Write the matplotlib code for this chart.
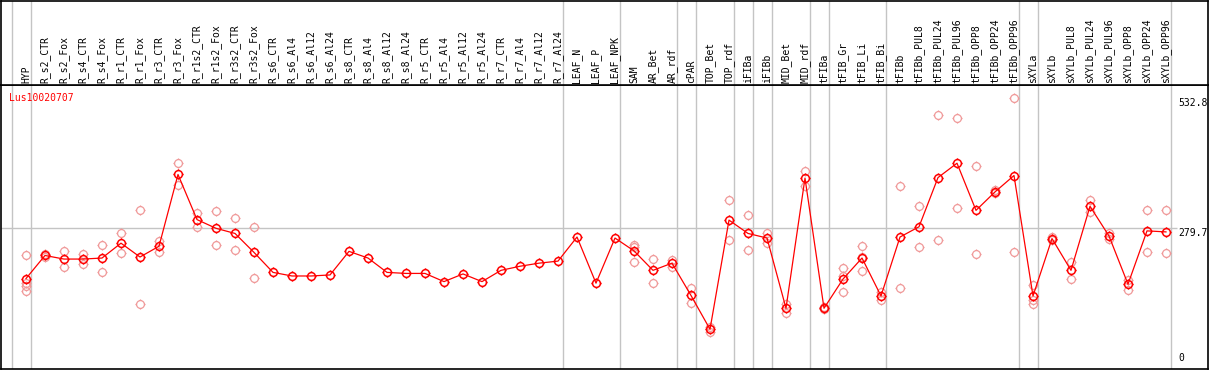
import numpy as np
import matplotlib
matplotlib.use("Agg")
import matplotlib.pyplot as plt
from matplotlib.path import Path

# sample names (one column each)
samples = ["HYP", "R_s2_CTR", "R_s2_Fox", "R_s4_CTR", "R_s4_Fox", "R_r1_CTR", "R_r1_Fox",
           "R_r3_CTR", "R_r3_Fox", "R_r1s2_CTR", "R_r1s2_Fox", "R_r3s2_CTR", "R_r3s2_Fox",
           "R_s6_CTR", "R_s6_Al4", "R_s6_Al12", "R_s6_Al24", "R_s8_CTR", "R_s8_Al4",
           "R_s8_Al12", "R_s8_Al24", "R_r5_CTR", "R_r5_Al4", "R_r5_Al12", "R_r5_Al24",
           "R_r7_CTR", "R_r7_Al4", "R_r7_Al12", "R_r7_Al24", "LEAF_N", "LEAF_P", "LEAF_NPK",
           "SAM", "AR_Bet", "AR_rdf", "cPAR", "TOP_Bet", "TOP_rdf", "iFIBa", "iFIBb",
           "MID_Bet", "MID_rdf", "tFIBa", "tFIB_Gr", "tFIB_Li", "tFIB_Bi", "tFIBb",
           "tFIBb_PUL8", "tFIBb_PUL24", "tFIBb_PUL96", "tFIBb_OPP8", "tFIBb_OPP24",
           "tFIBb_OPP96", "sXYLa", "sXYLb", "sXYLb_PUL8", "sXYLb_PUL24", "sXYLb_PUL96",
           "sXYLb_OPP8", "sXYLb_OPP24", "sXYLb_OPP96"]

# mean expression per sample
means = [181, 226, 219, 219, 221, 250, 223, 244, 384, 296, 279, 269, 232,
         193, 186, 186, 188, 234, 221, 193, 191, 191, 175, 190, 175, 197, 205, 211, 215,
         262, 172, 260, 235, 197, 211, 148, 82, 295, 269, 260, 123, 377, 123,
         180, 221, 147, 262, 282, 378, 406, 314, 350, 382, 147, 259, 197, 322,
         264, 170, 274, 272]

# individual replicates (empty where only the mean is shown)
replicates = [[227, 172, 166, 156], [229, 224], [235, 203], [229, 209], [246, 193],
              [270, 230], [315, 131], [254, 233], [406, 363], [309, 282], [313, 246],
              [300, 236], [281, 183],
              [], [], [], [], [], [], [], [], [], [], [], [], [], [], [], [], [], [], [],
              [246, 242, 213], [220, 172], [218, 204], [162, 134], [87, 77], [334, 256],
              [304, 236], [270, 251], [131, 114], [391, 362], [125, 121],
              [201, 185, 154], [244, 224, 195], [155, 139], [362, 162], [322, 242],
              [501, 256], [494, 319], [400, 229], [354, 347], [533, 233],
              [168, 139, 131], [262, 256], [214, 180], [334, 310], [270, 258],
              [178, 159], [315, 232], [315, 230]]

# group boundaries: separator drawn after these column indices
group_ends = [-1, 0, 28, 31, 34, 35, 37, 38, 39, 41, 42, 45, 52, 53, 60]

gene = "Lus10020707"
max_label = "532.8"
mid_value = 279.7

RED = "#ff0000"
FAINT = "#f09a9a"
GRAY = "#c4c4c4"
MONO = "DejaVu Sans Mono"

# circle with four small ticks, like the original marker
circ = Path.unit_circle()
t = 1.3
tick_v = [(0, 1), (0, t), (0, -1), (0, -t), (1, 0), (t, 0), (-1, 0), (-t, 0)]
tick_c = [Path.MOVETO, Path.LINETO] * 4
marker = Path.make_compound_path(circ, Path(tick_v, tick_c))

W, H = 1209, 370
fig = plt.figure(figsize=(W / 100, H / 100), dpi=100)

x = np.arange(len(samples))
xlim = ((1 - 26) / 19, (1208 - 26) / 19)

top_px, bot_px = 85.3, 368.5
left = 1 / W
width = 1207 / W
ax = fig.add_axes([left, (H - bot_px) / H, width, (bot_px - top_px) / H])
hd = fig.add_axes([left, (H - top_px) / H, width, (top_px - 0.5) / H])

for a in (ax, hd):
    a.set_xlim(*xlim)
    a.set_xticks([])
    a.set_yticks([])
    for s in a.spines.values():
        s.set_color("black")
        s.set_linewidth(1.2)
    for g in group_ends:
        a.axvline(g + 0.25, color=GRAY, lw=1.0, zorder=0)

ax.set_ylim(5.5, 558)
hd.set_ylim(0, 1)

ax.hlines(mid_value, xlim[0], 60.6, color=GRAY, lw=1.0, zorder=0)

# replicates
for i, reps in enumerate(replicates):
    if reps:
        ax.plot([x[i]] * len(reps), reps, linestyle="none", marker=marker, ms=7.3,
                mfc="none", mec=FAINT, mew=0.9, zorder=2)

# mean line with markers
ax.plot(x, means, color=RED, lw=0.9, zorder=3)
ax.plot(x, means, linestyle="none", marker=marker, ms=7.3, mfc="none", mec=RED,
        mew=1.1, zorder=4)

# header labels
for i, name in enumerate(samples):
    hd.text(x[i], 0.025, name, rotation=90, ha="center", va="bottom",
            fontsize=7, family=MONO, color="black")

ax.text(8 / 1207, 0.955, gene, transform=ax.transAxes, color=RED, fontsize=7,
        family=MONO, ha="left", va="center")

lab_x = (1178 - 26) / 19
ax.text(lab_x, float(max_label), max_label, fontsize=7, family=MONO, ha="left", va="top")
ax.text(lab_x, mid_value, f"{mid_value}", fontsize=7, family=MONO, ha="left", va="top")
ax.annotate("0", (lab_x, 0.02), xycoords=("data", "axes fraction"), fontsize=7,
            family=MONO, ha="left", va="bottom")

fig.savefig("out.png", dpi=100)
